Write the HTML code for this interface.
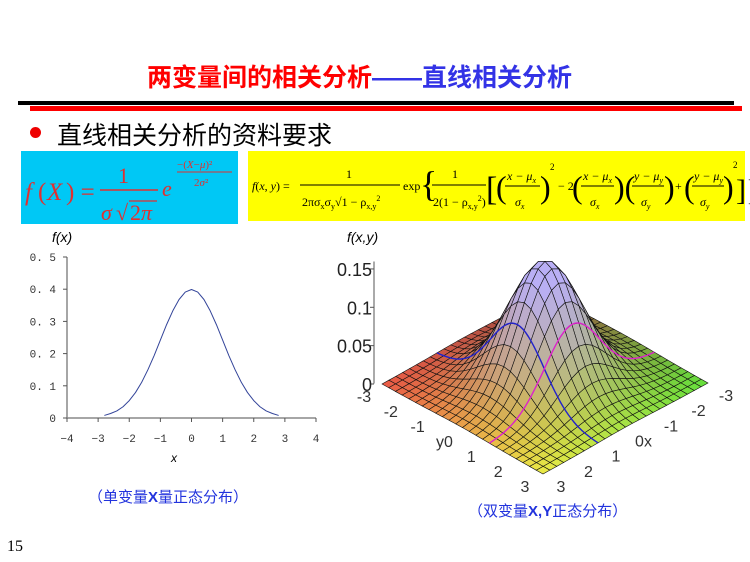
<!DOCTYPE html>
<html><head><meta charset="utf-8"><style>
body{margin:0;background:#fff}
#s{position:relative;width:750px;height:562px;overflow:hidden;background:#fff;font-family:"Liberation Sans","Noto Sans CJK SC",sans-serif}
.a{position:absolute;white-space:nowrap}
</style></head><body>
<div id="s">
<div class="a" style="left:147px;top:58px;font-size:25px;font-weight:bold;color:#f00">两变量间的相关分析<span style="color:#3333e6">——直线相关分析</span></div>
<div class="a" style="left:18px;top:101px;width:716px;height:4px;background:#000"></div>
<div class="a" style="left:30px;top:106px;width:712px;height:5px;background:#f00"></div>
<div class="a" style="left:30px;top:127px;width:11px;height:11px;border-radius:50%;background:#e00"></div>
<div class="a" style="left:57px;top:116px;font-size:25px;color:#000">直线相关分析的资料要求</div>
<div class="a" style="left:21px;top:151px;width:217px;height:73px;background:#00c8f5"></div>
<div class="a" style="left:248px;top:151px;width:497px;height:70px;background:#ffff00"></div>
<svg class="a" style="left:0;top:0" width="750" height="562" font-family="Liberation Serif,serif">
<g fill="#e03030" font-style="italic">
<text x="25" y="200" font-size="25">f</text><text x="38" y="200" font-size="25" font-style="normal">(</text><text x="47" y="200" font-size="25">X</text><text x="66" y="200" font-size="25" font-style="normal">) =</text>
<text x="118" y="183" font-size="22" font-style="normal">1</text>
<line x1="100" y1="190" x2="158" y2="190" stroke="#e03030" stroke-width="1.5"/>
<text x="101" y="220" font-size="22">σ</text><text x="116" y="220" font-size="22" font-style="normal">√</text><line x1="129" y1="201" x2="157" y2="201" stroke="#e03030" stroke-width="1.2"/><text x="130" y="220" font-size="22" font-style="normal">2<tspan font-style="italic">π</tspan></text>
<text x="162" y="196" font-size="22">e</text>
<text x="177" y="168" font-size="11" font-style="normal">−(<tspan font-style="italic">X</tspan>−<tspan font-style="italic">μ</tspan>)²</text>
<line x1="177" y1="172" x2="232" y2="172" stroke="#e03030" stroke-width="1"/>
<text x="194" y="186" font-size="11" font-style="normal">2<tspan font-style="italic">σ</tspan>²</text>
</g>
<g fill="#000" font-size="12">
<text x="252" y="190"><tspan font-style="italic">f</tspan>(<tspan font-style="italic">x</tspan>, <tspan font-style="italic">y</tspan>) =</text>
<text x="346" y="178">1</text><line x1="300" y1="185" x2="400" y2="185" stroke="#000"/>
<text x="302" y="206">2πσ<tspan font-size="8" dy="3">x</tspan><tspan dy="-3">σ</tspan><tspan font-size="8" dy="3">y</tspan><tspan dy="-3">√1 − ρ</tspan><tspan font-size="8" dy="3">x,y</tspan><tspan font-size="8" dy="-8">2</tspan></text>
<text x="403" y="190">exp</text><text x="420" y="196" font-size="36">{</text>
<text x="452" y="178">1</text><line x1="432" y1="185" x2="486" y2="185" stroke="#000"/>
<text x="433" y="206">2(1 − ρ<tspan font-size="8" dy="3">x,y</tspan><tspan font-size="8" dy="-8">2</tspan><tspan dy="5">)</tspan></text>
<text x="486" y="200" font-size="34">[</text>
<text x="496" y="198" font-size="32">(</text><text x="507" y="180" font-style="italic">x − μ<tspan font-size="8" dy="3">x</tspan></text><line x1="505" y1="186" x2="540" y2="186" stroke="#000"/><text x="515" y="206" font-style="italic">σ<tspan font-size="8" dy="3">x</tspan></text><text x="540" y="198" font-size="32">)</text><text x="550" y="170" font-size="9">2</text>
<text x="558" y="190">− 2</text>
<text x="572" y="198" font-size="32">(</text><text x="583" y="180" font-style="italic">x − μ<tspan font-size="8" dy="3">x</tspan></text><line x1="581" y1="186" x2="614" y2="186" stroke="#000"/><text x="590" y="206" font-style="italic">σ<tspan font-size="8" dy="3">x</tspan></text><text x="614" y="198" font-size="32">)(</text>
<text x="634" y="180" font-style="italic">y − μ<tspan font-size="8" dy="3">y</tspan></text><line x1="632" y1="186" x2="664" y2="186" stroke="#000"/><text x="641" y="206" font-style="italic">σ<tspan font-size="8" dy="3">y</tspan></text><text x="664" y="198" font-size="32">)</text>
<text x="675" y="190">+</text>
<text x="684" y="198" font-size="32">(</text><text x="694" y="180" font-style="italic">y − μ<tspan font-size="8" dy="3">y</tspan></text><line x1="692" y1="186" x2="724" y2="186" stroke="#000"/><text x="700" y="206" font-style="italic">σ<tspan font-size="8" dy="3">y</tspan></text><text x="723" y="198" font-size="32">)</text><text x="733" y="168" font-size="9">2</text><text x="736" y="200" font-size="30">]}</text>
</g>
</svg>
<div class="a" style="left:52px;top:229px;font-size:14px;font-style:italic">f(x)</div>
<div class="a" style="left:347px;top:229px;font-size:14px;font-style:italic">f(x,y)</div>
<svg class="a" id="c1" style="left:0;top:240px" width="330" height="230"></svg>
<svg class="a" id="c2" style="left:330px;top:240px" width="420" height="260"></svg>
<div class="a" style="left:88px;top:486px;font-size:15px;color:#2233dd">（单变量<b>X</b>量正态分布）</div>
<div class="a" style="left:468px;top:500px;font-size:15px;color:#2233dd">（双变量<b>X,Y</b>正态分布）</div>
<div class="a" style="left:7px;top:538px;font-size:16px;font-family:'Liberation Serif',serif">15</div>
</div>
<script>
const xTicks=[-4,-3,-2,-1,0,1,2,3,4];
const yTicks=[0,0.1,0.2,0.3,0.4,0.5];
const curveX=[-2.8,-2.6,-2.4,-2.2,-2.0,-1.8,-1.6,-1.4,-1.2,-1.0,-0.8,-0.6,-0.4,-0.2,0,0.2,0.4,0.6,0.8,1.0,1.2,1.4,1.6,1.8,2.0,2.2,2.4,2.6,2.8];
const curveY=[0.008,0.014,0.022,0.035,0.054,0.079,0.111,0.150,0.194,0.242,0.290,0.333,0.368,0.391,0.399,0.391,0.368,0.333,0.290,0.242,0.194,0.150,0.111,0.079,0.054,0.035,0.022,0.014,0.008];
const zTicks=[0,0.05,0.1,0.15];
const zLabels=["0","0.05","0.1","0.15"];
const gridVals=[-3,-2.75,-2.5,-2.25,-2,-1.75,-1.5,-1.25,-1,-0.75,-0.5,-0.25,0,0.25,0.5,0.75,1,1.25,1.5,1.75,2,2.25,2.5,2.75,3];
const axisLabels=[-3,-2,-1,0,1,2,3];
const blueCurveX=1, magentaCurveY=1;
const NS='http://www.w3.org/2000/svg';
function el(p,t,a){const e=document.createElementNS(NS,t);for(const k in a)e.setAttribute(k,a[k]);p.appendChild(e);return e;}
const c1=document.getElementById('c1');
const sx=v=>67+(v+4)/8*249, sy=v=>178-v/0.5*161;
let ax=el(c1,'path',{d:`M67 ${sy(0.5)}V178H316`,stroke:'#888',fill:'none','stroke-width':1.5});

xTicks.forEach(v=>{const t=el(c1,'text',{x:sx(v),y:202,'font-size':11,'text-anchor':'middle','font-family':'Liberation Mono,monospace',fill:'#333'});t.textContent=v<0?'−'+(-v):v;el(c1,'line',{x1:sx(v),x2:sx(v),y1:178,y2:182,stroke:'#555'});});
yTicks.forEach(v=>{const t=el(c1,'text',{x:56,y:sy(v)+4,'font-size':11,'text-anchor':'end','font-family':'Liberation Mono,monospace',fill:'#333'});t.textContent=v===0?'0':v.toFixed(1).replace('.','. ');el(c1,'line',{x1:63,x2:67,y1:sy(v),y2:sy(v),stroke:'#555'});});
let xt=el(c1,'text',{x:174,y:222,'font-size':12,'font-style':'italic','text-anchor':'middle'});xt.textContent='x';
let cp=el(c1,'path',{d:'M'+curveX.map((v,i)=>sx(v)+' '+sy(curveY[i])).join('L'),fill:'none',stroke:'#334499','stroke-width':1,'stroke-linejoin':'round'});

const c2=document.getElementById('c2');
const back=[217,53],dL=[-165,91],dR=[161,90],zs=767;
function P(x,y,z){const a=(x+3)/6,b=(y+3)/6;return [back[0]+a*dL[0]+b*dR[0],back[1]+a*dL[1]+b*dR[1]-z*zs];}
const f=(x,y)=>Math.exp(-(x*x+y*y)/2)/(2*Math.PI);
function col(x,y,z){const a=(x+3)/6,b=(y+3)/6;
 const cb=[150,70,60],cl=[235,90,70],cr=[100,225,60],cf=[235,235,70];
 let c=[0,1,2].map(i=>cb[i]*(1-a)*(1-b)+cl[i]*a*(1-b)+cr[i]*(1-a)*b+cf[i]*a*b);
 const h=Math.min(1,z/0.155*1.1);const lv=[185,175,245];
 c=c.map((v,i)=>Math.round(v*(1-h)+lv[i]*h));return `rgb(${c})`;}
const zx=44;
let za=el(c2,'line',{x1:zx,x2:zx,y1:P(0,0,0)[1],y2:P(0,0,0.159)[1],stroke:'#555'});

zTicks.forEach((v,i)=>{const yy=144-v*zs;el(c2,'line',{x1:zx-4,x2:zx,y1:yy,y2:yy,stroke:'#555'});const t=el(c2,'text',{x:zx-2,y:yy+7,'font-size':18,'text-anchor':'end',fill:'#222'});t.textContent=zLabels[i];});
const quads=[];
for(let i=0;i<gridVals.length-1;i++)for(let j=0;j<gridVals.length-1;j++)quads.push([i,j]);
quads.sort((p,q)=>(p[0]+p[1])-(q[0]+q[1]));
const sg=el(c2,'g',{});
quads.forEach(([i,j])=>{const x0=gridVals[i],x1=gridVals[i+1],y0=gridVals[j],y1=gridVals[j+1];
 const pts=[[x0,y0],[x1,y0],[x1,y1],[x0,y1]].map(([x,y])=>P(x,y,f(x,y)).join(',')).join(' ');
 const xm=(x0+x1)/2,ym=(y0+y1)/2;
 el(sg,'polygon',{points:pts,fill:col(xm,ym,f(xm,ym)),stroke:'#111','stroke-width':0.6});});
function curve(fx,name,color){let d='';for(let k=0;k<=60;k++){const t=-3+k*0.1;const [x,y]=fx(t);const p=P(x,y,f(x,y));d+=(k?'L':'M')+p[0].toFixed(1)+' '+p[1].toFixed(1);}
 const e=el(c2,'path',{d,fill:'none',stroke:color,'stroke-width':1.4});}
curve(t=>[blueCurveX,t],'blue-slice-curve','#2222cc');
curve(t=>[t,magentaCurveY],'magenta-slice-curve','#dd22cc');
axisLabels.forEach(v=>{let p=P(3,v,0);let t=el(c2,'text',{x:p[0]-18,y:p[1]+18,'font-size':16,'text-anchor':'middle',fill:'#333'});t.textContent=v===0?'y0':v;
 p=P(v,3,0);t=el(c2,'text',{x:p[0]+18,y:p[1]+18,'font-size':16,'text-anchor':'middle',fill:'#333'});t.textContent=v===0?'0x':v;});
</script>
</body></html>
